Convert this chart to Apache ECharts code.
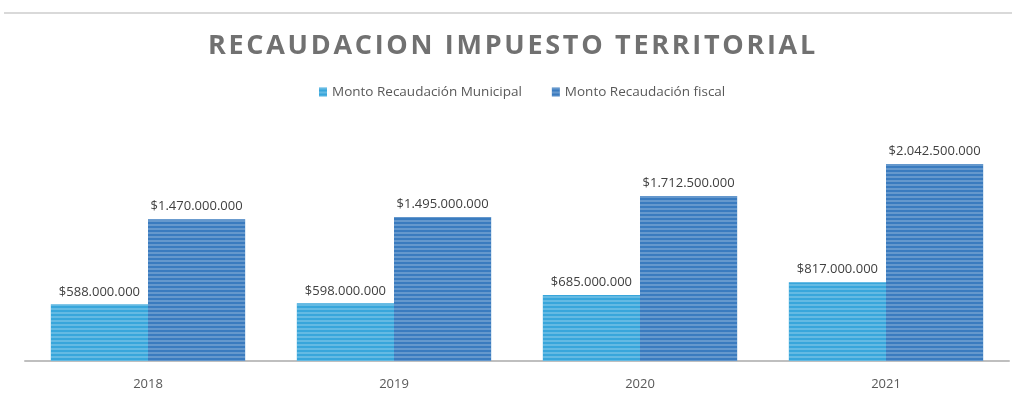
<!DOCTYPE html>
<html>
<head>
<meta charset="utf-8">
<style>
  html, body { margin: 0; padding: 0; background: #ffffff; }
  #chart { width: 1012px; height: 396px; }
</style>
<script src="https://cdn.jsdelivr.net/npm/echarts@6/dist/echarts.min.js"></script>
</head>
<body>
<div id="chart"></div>
<script>
// Years on the category axis
const years = ['2018', '2019', '2020', '2021'];
// Municipal collection per year (CLP)
const municipal = [588000000, 598000000, 685000000, 817000000];
// Fiscal collection per year (CLP)
const fiscal = [1470000000, 1495000000, 1712500000, 2042500000];
const seriesNames = ['Monto Recaudación Municipal', 'Monto Recaudación fiscal'];
const titleText = 'RECAUDACION IMPUESTO TERRITORIAL';

// Thousands separated with dots, prefixed by $
function money(v) {
  const s = Math.round(v).toString().replace(/\B(?=(\d{3})+(?!\d))/g, '.');
  return '$' + s;
}

// Tracked title: hair spaces between letters
function tracked(s) {
  return s.split('').join('\u200A');
}

const stripes = {
  symbol: 'rect',
  dashArrayX: [1, 0],
  dashArrayY: [2, 2],
  rotation: 0,
  symbolSize: 1,
  color: 'rgba(255,255,255,0.22)'
};

const chart = echarts.init(document.getElementById('chart'), null, { renderer: 'canvas' });

const labelStyle = {
  show: true,
  position: 'top',
  distance: 6,
  color: '#404040',
  fontFamily: 'Open Sans, sans-serif',
  fontSize: 13,
  formatter: p => money(p.value)
};

chart.setOption({
  animation: false,
  backgroundColor: '#ffffff',
  graphic: [{
    type: 'line',
    shape: { x1: 4, y1: 13, x2: 1012, y2: 13 },
    style: { stroke: '#d9d9d9', lineWidth: 2 }
  }],
  title: {
    text: tracked(titleText),
    left: 208,
    top: 28,
    padding: [5, 0],
    textStyle: {
      color: '#717171',
      fontFamily: 'Open Sans, sans-serif',
      fontWeight: 'bold',
      fontSize: 27
    }
  },
  legend: {
    top: 80,
    left: 314,
    icon: 'rect',
    itemWidth: 8,
    itemHeight: 9,
    itemGap: 30,
    textStyle: { color: '#595959', fontFamily: 'Open Sans, sans-serif', fontSize: 13.5 },
    data: seriesNames
  },
  grid: { left: 25, right: 3, top: 120, bottom: 35 },
  xAxis: {
    type: 'category',
    data: years,
    axisLine: { lineStyle: { color: '#bfbfbf', width: 2 } },
    axisTick: { show: false },
    axisLabel: { color: '#595959', fontFamily: 'Open Sans, sans-serif', fontSize: 13, margin: 17 }
  },
  yAxis: {
    type: 'value',
    min: 0,
    max: 2500000000,
    show: false,
    splitLine: { show: false }
  },
  series: [
    {
      name: seriesNames[0],
      type: 'bar',
      data: municipal,
      barGap: '0%',
      barCategoryGap: '21%',
      itemStyle: { color: '#38a6db', decal: stripes },
      label: labelStyle
    },
    {
      name: seriesNames[1],
      type: 'bar',
      data: fiscal,
      itemStyle: { color: '#3a7bbf', decal: stripes },
      label: labelStyle
    }
  ],
  aria: { enabled: false, decal: { show: true } }
});
</script>
</body>
</html>
